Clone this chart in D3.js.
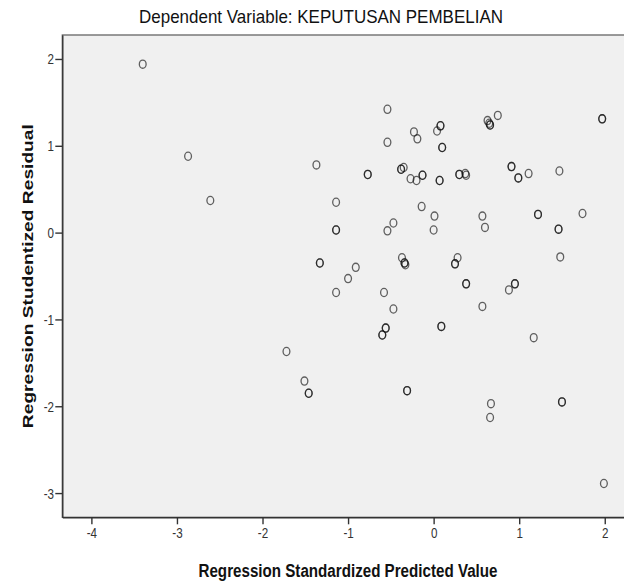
<!DOCTYPE html>
<html>
<head>
<meta charset="utf-8">
<script src="https://cdn.jsdelivr.net/npm/d3@7"></script>
<style>
  body { margin: 0; background: #fff; }
  text { font-family: "Liberation Sans", Arial, sans-serif; }
</style>
</head>
<body>
<div id="chart"></div>
<script>
// standardized predicted values (x) and studentized residuals (y)
// (repeated pairs are the points that look darker: two cases on the same spot)
let predicted = [
    -3.40, -2.87, -2.61, -1.37, -1.14, -1.14, -1.14, -1.33, -1.33, -0.91, -1.00, -1.14,
    -0.54, -0.54, -0.23, -0.19, 0.04, 0.08, 0.08, 0.10, 0.10, 0.63, 0.66, 0.66, 0.65, 0.75,
    1.97, 1.97, -0.77, -0.77, -0.38, -0.38, -0.35, -0.27, -0.20, -0.13, -0.13, 0.07, 0.07,
    0.30, 0.30, 0.37, 0.38, 0.91, 0.91, 0.99, 0.99, 1.11, 1.47,
    -0.14, 0.01, 0.57, 0.60, 1.22, 1.22, 1.74, -0.47, -0.54, 0.00, 1.46, 1.46,
    -0.37, -0.34, -0.34, -0.33, 0.28, 0.25, 0.25, 1.48, 0.38, 0.38, 0.88, 0.95, 0.95,
    -0.58, -0.47, 0.57, -0.56, -0.56, -0.60, -0.60, 0.09, 0.09, 1.17,
    -1.72, -1.51, -1.46, -1.46, -0.31, -0.31, 0.67, 0.66, 1.50, 1.50, 1.99
];
let residual = [
    1.94, 0.88, 0.37, 0.78, 0.35, 0.03, 0.03, -0.35, -0.35, -0.40, -0.53, -0.69,
    1.42, 1.04, 1.16, 1.08, 1.17, 1.23, 1.23, 0.98, 0.98, 1.29, 1.24, 1.24, 1.26, 1.35,
    1.31, 1.31, 0.67, 0.67, 0.73, 0.73, 0.75, 0.62, 0.60, 0.66, 0.66, 0.60, 0.60,
    0.67, 0.67, 0.68, 0.66, 0.76, 0.76, 0.63, 0.63, 0.68, 0.71,
    0.30, 0.19, 0.19, 0.06, 0.21, 0.21, 0.22, 0.11, 0.02, 0.03, 0.04, 0.04,
    -0.29, -0.35, -0.35, -0.37, -0.29, -0.36, -0.36, -0.28, -0.59, -0.59, -0.66, -0.59, -0.59,
    -0.69, -0.88, -0.85, -1.10, -1.10, -1.18, -1.18, -1.08, -1.08, -1.21,
    -1.37, -1.71, -1.85, -1.85, -1.82, -1.82, -1.97, -2.13, -1.95, -1.95, -2.89
];
let xTicks = [-4, -3, -2, -1, 0, 1, 2];
let yTicks = [-3, -2, -1, 0, 1, 2];

let chartTitle = "Dependent Variable: KEPUTUSAN PEMBELIAN";
let xTitle = "Regression Standardized Predicted Value";
let yTitle = "Regression Studentized Residual";

let points = predicted.map((d, i) => ({x: d, y: residual[i]}));

let width = 624, height = 584;
let plot = {left: 62.3, right: 624, top: 35, bottom: 517.3};

let svg = d3.select("#chart").append("svg")
    .attr("width", width)
    .attr("height", height);

let x = d3.scaleLinear().domain([-4.34, 2.225]).range([plot.left, plot.right]);
let y = d3.scaleLinear().domain([-3.279, 2.276]).range([plot.bottom, plot.top]);

// plot background
svg.append("rect")
    .attr("x", plot.left)
    .attr("y", plot.top)
    .attr("width", plot.right - plot.left + 2)
    .attr("height", plot.bottom - plot.top)
    .attr("fill", "#f0f0f0")
    .attr("stroke", "#666")
    .attr("stroke-width", 1.3);

// title
svg.append("text")
    .attr("x", 321)
    .attr("y", 23)
    .attr("text-anchor", "middle")
    .attr("font-size", 19)
    .attr("textLength", 364)
    .attr("lengthAdjust", "spacingAndGlyphs")
    .attr("fill", "#111")
    .text(chartTitle);

// axes (plain hyphen for negatives, like the original)
let plainFormat = d => String(d);

let xAxis = svg.append("g")
    .attr("transform", `translate(0, ${plot.bottom})`)
    .call(d3.axisBottom(x).tickValues(xTicks).tickSize(7).tickSizeOuter(0).tickFormat(plainFormat));

let yAxis = svg.append("g")
    .attr("transform", `translate(${plot.left}, 0)`)
    .call(d3.axisLeft(y).tickValues(yTicks).tickSize(7).tickSizeOuter(0).tickFormat(plainFormat));

[xAxis, yAxis].forEach(ax => {
    ax.select(".domain").attr("stroke", "#333").attr("stroke-width", 1.4);
    ax.selectAll(".tick line").attr("stroke", "#333").attr("stroke-width", 1.4);
    ax.selectAll(".tick text")
        .attr("font-family", "'Liberation Sans', Arial, sans-serif")
        .attr("font-size", 15.5)
        .attr("fill", "#333");
});
xAxis.selectAll(".tick text").attr("y", 10).attr("transform", "scale(0.75,1)");
yAxis.selectAll(".tick text").attr("x", -11).attr("transform", "scale(0.75,1)");

// points
svg.append("g")
    .selectAll("ellipse")
    .data(points)
    .enter()
    .append("ellipse")
    .attr("cx", d => x(d.x))
    .attr("cy", d => y(d.y))
    .attr("rx", 3.4)
    .attr("ry", 4.1)
    .attr("fill", "none")
    .attr("stroke", "#111")
    .attr("stroke-opacity", 0.65)
    .attr("stroke-width", 1.3);

// axis titles
svg.append("text")
    .attr("x", 348)
    .attr("y", 577)
    .attr("text-anchor", "middle")
    .attr("font-size", 18)
    .attr("font-weight", "bold")
    .attr("textLength", 299)
    .attr("lengthAdjust", "spacingAndGlyphs")
    .attr("fill", "#111")
    .text(xTitle);

svg.append("text")
    .attr("transform", `translate(33, ${(plot.top + plot.bottom) / 2}) rotate(-90)`)
    .attr("text-anchor", "middle")
    .attr("font-size", 15)
    .attr("font-weight", "bold")
    .attr("textLength", 304)
    .attr("lengthAdjust", "spacingAndGlyphs")
    .attr("fill", "#111")
    .text(yTitle);
</script>
</body>
</html>
